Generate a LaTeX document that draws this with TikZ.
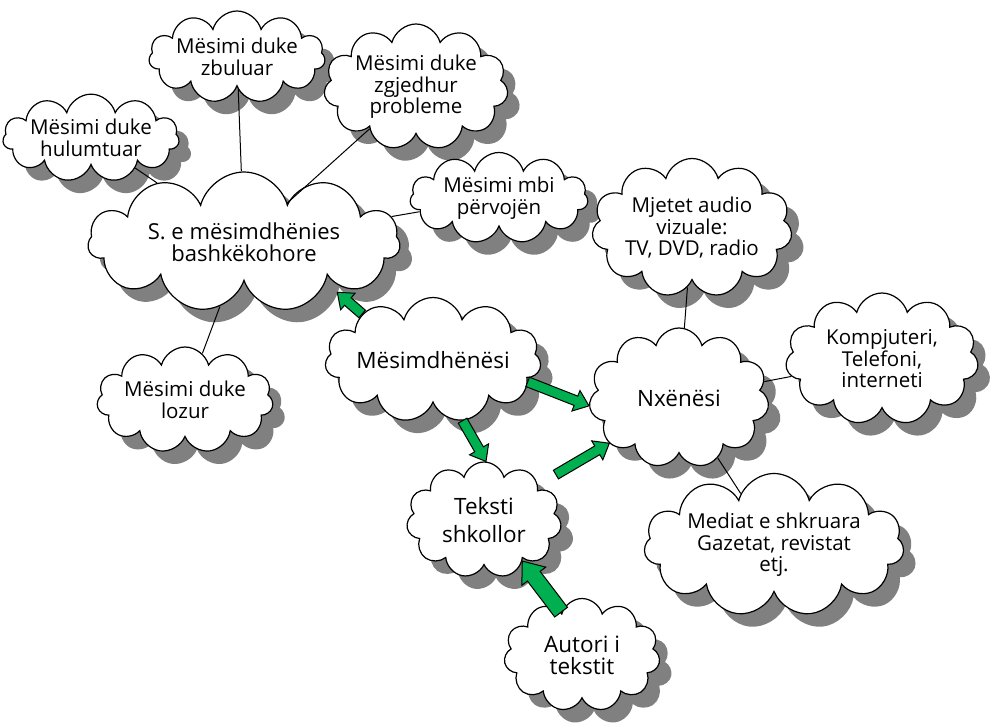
\documentclass[tikz,border=0pt]{standalone}
\usepackage{fontspec}
\setmainfont{Open Sans}
\usetikzlibrary{shapes.symbols, shadows, calc}

\definecolor{arrowgreen}{RGB}{0,176,80}

% block arrow between two points: from, to, half shaft, half head, head length
\newcommand{\greenarrow}[5]{%
    \draw[blockarrow] let \p1 = (#1), \p2 = (#2), \n1 = {atan2(\y2-\y1,\x2-\x1)}, \n2 = {veclen(\x2-\x1,\y2-\y1)} in
        [shift={(\p1)}, rotate=\n1]
        (0pt,-#3) -- ({\n2*1pt-#5},-#3) -- ({\n2*1pt-#5},-#4) -- ({\n2*1pt},0pt)
        -- ({\n2*1pt-#5},#4) -- ({\n2*1pt-#5},#3) -- (0pt,#3) -- cycle;}

\begin{document}
\begin{tikzpicture}[x=1pt, y=-1pt,
    bubble/.style={cloud, cloud puffs=11, cloud ignores aspect, draw=black, line width=1.2pt,
        fill=white, inner sep=0pt, align=center,
        drop shadow={shadow xshift=12pt, shadow yshift=-13pt, fill=gray, opacity=1}},
    smalltext/.style={font=\fontsize{20.5}{21.5}\selectfont},
    bigtext/.style={font=\fontsize{22.5}{22}\selectfont},
    connector/.style={draw=black, line width=1pt},
    blockarrow/.style={draw=black, fill=arrowgreen, line width=1pt, line join=miter}]

    \useasboundingbox (0,0) rectangle (994,724);

    % Clouds:
    \node[bubble, smalltext, minimum width=168, minimum height=87] (hul) at (91,138) {Mësimi duke\\hulumtuar};
    \node[bubble, smalltext, minimum width=175, minimum height=92] (zbu) at (237,57) {Mësimi duke\\zbuluar};
    \node[bubble, smalltext, minimum width=177, minimum height=126] (zgj) at (416,87) {Mësimi duke\\zgjedhur\\probleme};
    \node[bubble, font=\fontsize{22}{22}\selectfont, minimum width=312, minimum height=140] (sem) at (244,242) {S. e mësimdhënies\\bashkëkohore};
    \node[bubble, smalltext, minimum width=178, minimum height=85] (per) at (499,198) {Mësimi mbi\\përvojën};
    \node[bubble, smalltext, minimum width=195, minimum height=139] (mje) at (692,228) {Mjetet audio\\vizuale:\\TV, DVD, radio};
    \node[bubble, smalltext, minimum width=193, minimum height=132] (kom) at (882,359) {Kompjuteri,\\Telefoni,\\interneti};
    \node[bubble, bigtext, minimum width=180, minimum height=140] (nxe) at (679,398) {Nxënësi};
    \node[bubble, bigtext, minimum width=216, minimum height=125] (mes) at (433,360) {Mësimdhënësi};
    \node[bubble, bigtext, minimum width=155, minimum height=116] (tek) at (484,520) {Teksti\\[6pt]shkollor};
    \node[bubble, bigtext, minimum width=156, minimum height=113] (aut) at (582,655) {Autori i\\tekstit};
    \node[bubble, smalltext, minimum width=260, minimum height=143] (med) at (774,545) {Mediat e shkruara\\Gazetat, revistat\\etj.};
    \node[bubble, smalltext, minimum width=170, minimum height=106] (loz) at (185,400) {Mësimi duke\\lozur};

    % Lines:
    \draw[connector] (hul) -- (sem);
    \draw[connector] (zbu) -- (sem);
    \draw[connector] (zgj) -- (sem);
    \draw[connector] (per) -- (sem);
    \draw[connector] (loz) -- (sem);
    \draw[connector] (mje) -- (nxe);
    \draw[connector] (kom) -- (nxe);
    \draw[connector] (med) -- (nxe);

    % Arrows:
    \greenarrow{mes.147}{$(sem.-32)+(16,2)$}{5pt}{11pt}{14pt}
    \greenarrow{mes.-13}{nxe.-175}{5pt}{11pt}{14pt}
    \greenarrow{mes.-64}{tek.88}{5pt}{11pt}{14pt}
    \greenarrow{$(tek.36)+(19,-7)$}{nxe.-147}{5pt}{11pt}{14pt}
    \greenarrow{aut.116}{tek.-47}{8pt}{15pt}{19pt}
\end{tikzpicture}
\end{document}
